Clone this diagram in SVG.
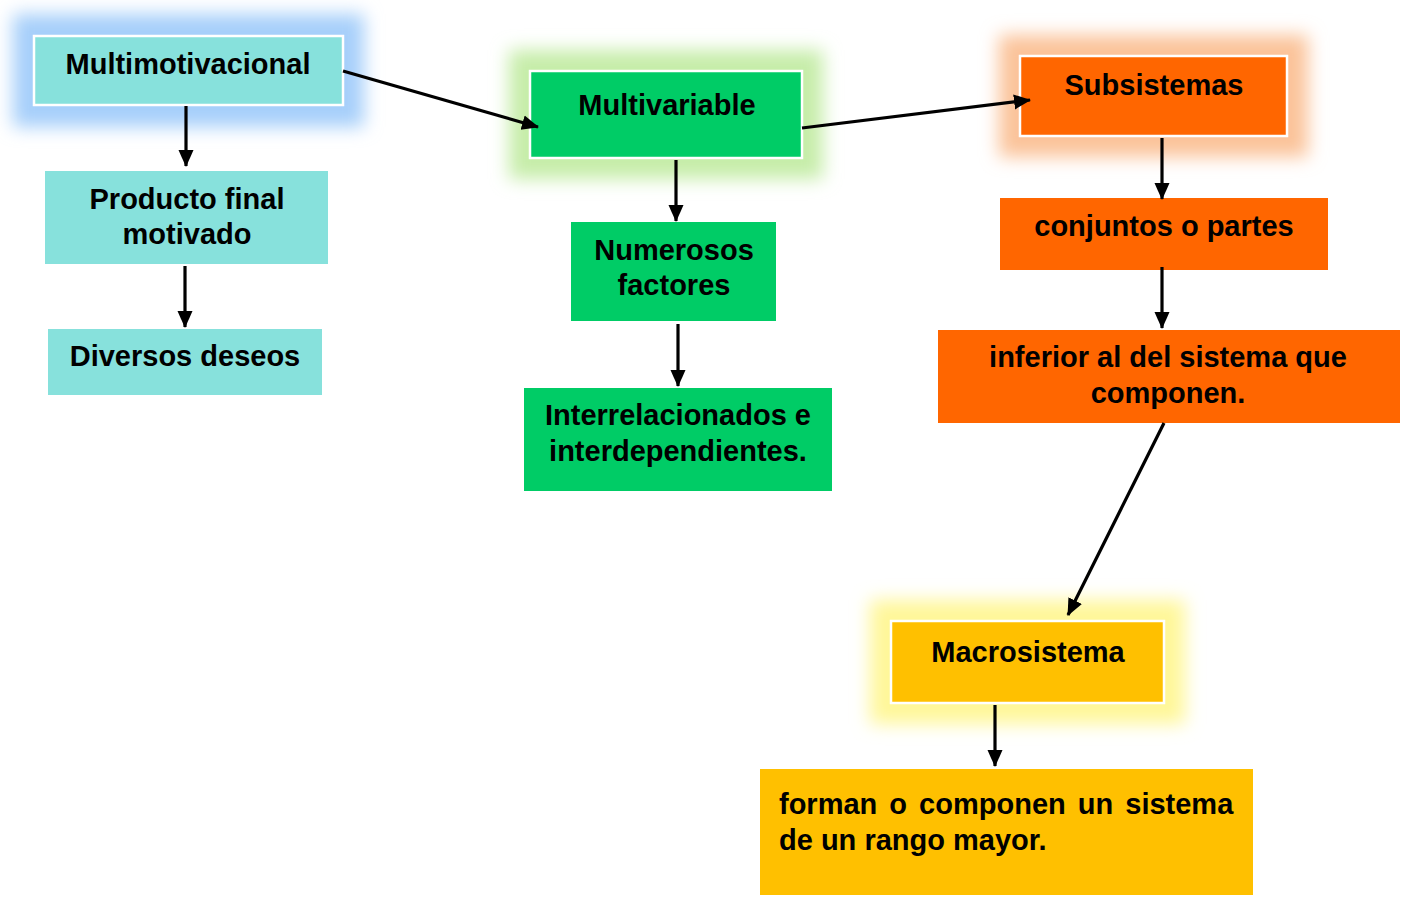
<svg xmlns="http://www.w3.org/2000/svg" width="1405" height="899" viewBox="0 0 1405 899">
<style>
text{font-family:"Liberation Sans",Arial,sans-serif;font-weight:bold;font-size:29px;fill:#000;text-anchor:middle}
.cy{fill:#87E1DC}.gr{fill:#00CC66}.or{fill:#FF6600}.ye{fill:#FFC000}
.bd{stroke:#fff;stroke-width:2.5}
.cn line{stroke:#000;stroke-width:3.2;marker-end:url(#ah)}
</style>
<defs>
<filter id="glow" x="-40%" y="-80%" width="180%" height="260%"><feGaussianBlur stdDeviation="9"/></filter>
<marker id="ah" markerUnits="userSpaceOnUse" markerWidth="17" markerHeight="17" viewBox="0 0 17 17" refX="16" refY="8.5" orient="auto"><path d="M0,1 L17,8.5 L0,16 Z" fill="#000"/></marker>
</defs>
<rect width="1405" height="899" fill="#fff"/>
<g id="n1">
<rect x="13" y="14" width="351" height="113" fill="#A6CFFA" filter="url(#glow)"/>
<rect x="34" y="36" width="309" height="69" class="cy bd"/>
<text x="188" y="74">Multimotivacional</text>
</g>
<g id="n2">
<rect x="45" y="171" width="283" height="93" class="cy"/>
<text x="187" y="209">Producto final</text>
<text x="187" y="244">motivado</text>
</g>
<g id="n3">
<rect x="48" y="329" width="274" height="66" class="cy"/>
<text x="185" y="366">Diversos deseos</text>
</g>
<g id="n4">
<rect x="509" y="50" width="314" height="129" fill="#C6EDA9" filter="url(#glow)"/>
<rect x="530" y="71" width="272" height="87" class="gr bd"/>
<text x="667" y="115">Multivariable</text>
</g>
<g id="n5">
<rect x="571" y="222" width="205" height="99" class="gr"/>
<text x="674" y="260">Numerosos</text>
<text x="674" y="295">factores</text>
</g>
<g id="n6">
<rect x="524" y="388" width="308" height="103" class="gr"/>
<text x="678" y="425">Interrelacionados e</text>
<text x="678" y="461">interdependientes.</text>
</g>
<g id="n7">
<rect x="999" y="35" width="309" height="122" fill="#FBC39A" filter="url(#glow)"/>
<rect x="1020" y="56" width="267" height="80" class="or bd"/>
<text x="1154" y="95">Subsistemas</text>
</g>
<g id="n8">
<rect x="1000" y="198" width="328" height="72" class="or"/>
<text x="1164" y="236">conjuntos o partes</text>
</g>
<g id="n9">
<rect x="938" y="330" width="462" height="93" class="or"/>
<text x="1168" y="367">inferior al del sistema que</text>
<text x="1168" y="403">componen.</text>
</g>
<g id="n10">
<rect x="870" y="600" width="315" height="124" fill="#FFF799" filter="url(#glow)"/>
<rect x="891" y="621" width="273" height="82" class="ye bd"/>
<text x="1028" y="662">Macrosistema</text>
</g>
<g id="n11">
<rect x="760" y="769" width="493" height="126" class="ye"/>
<text x="779" y="814" style="text-anchor:start" word-spacing="4">forman o componen un sistema</text>
<text x="779" y="850" style="text-anchor:start">de un rango mayor.</text>
</g>
<g id="connectors" class="cn">
<line x1="186" y1="106" x2="186" y2="166"/>
<line x1="185" y1="266" x2="185" y2="327"/>
<line x1="343" y1="71" x2="538" y2="127"/>
<line x1="676" y1="160" x2="676" y2="221"/>
<line x1="678" y1="324" x2="678" y2="386"/>
<line x1="802" y1="128" x2="1030" y2="100"/>
<line x1="1162" y1="138" x2="1162" y2="199"/>
<line x1="1162" y1="267" x2="1162" y2="328"/>
<line x1="1164" y1="423" x2="1068" y2="615"/>
<line x1="995" y1="705" x2="995" y2="766"/>
</g>
</svg>
